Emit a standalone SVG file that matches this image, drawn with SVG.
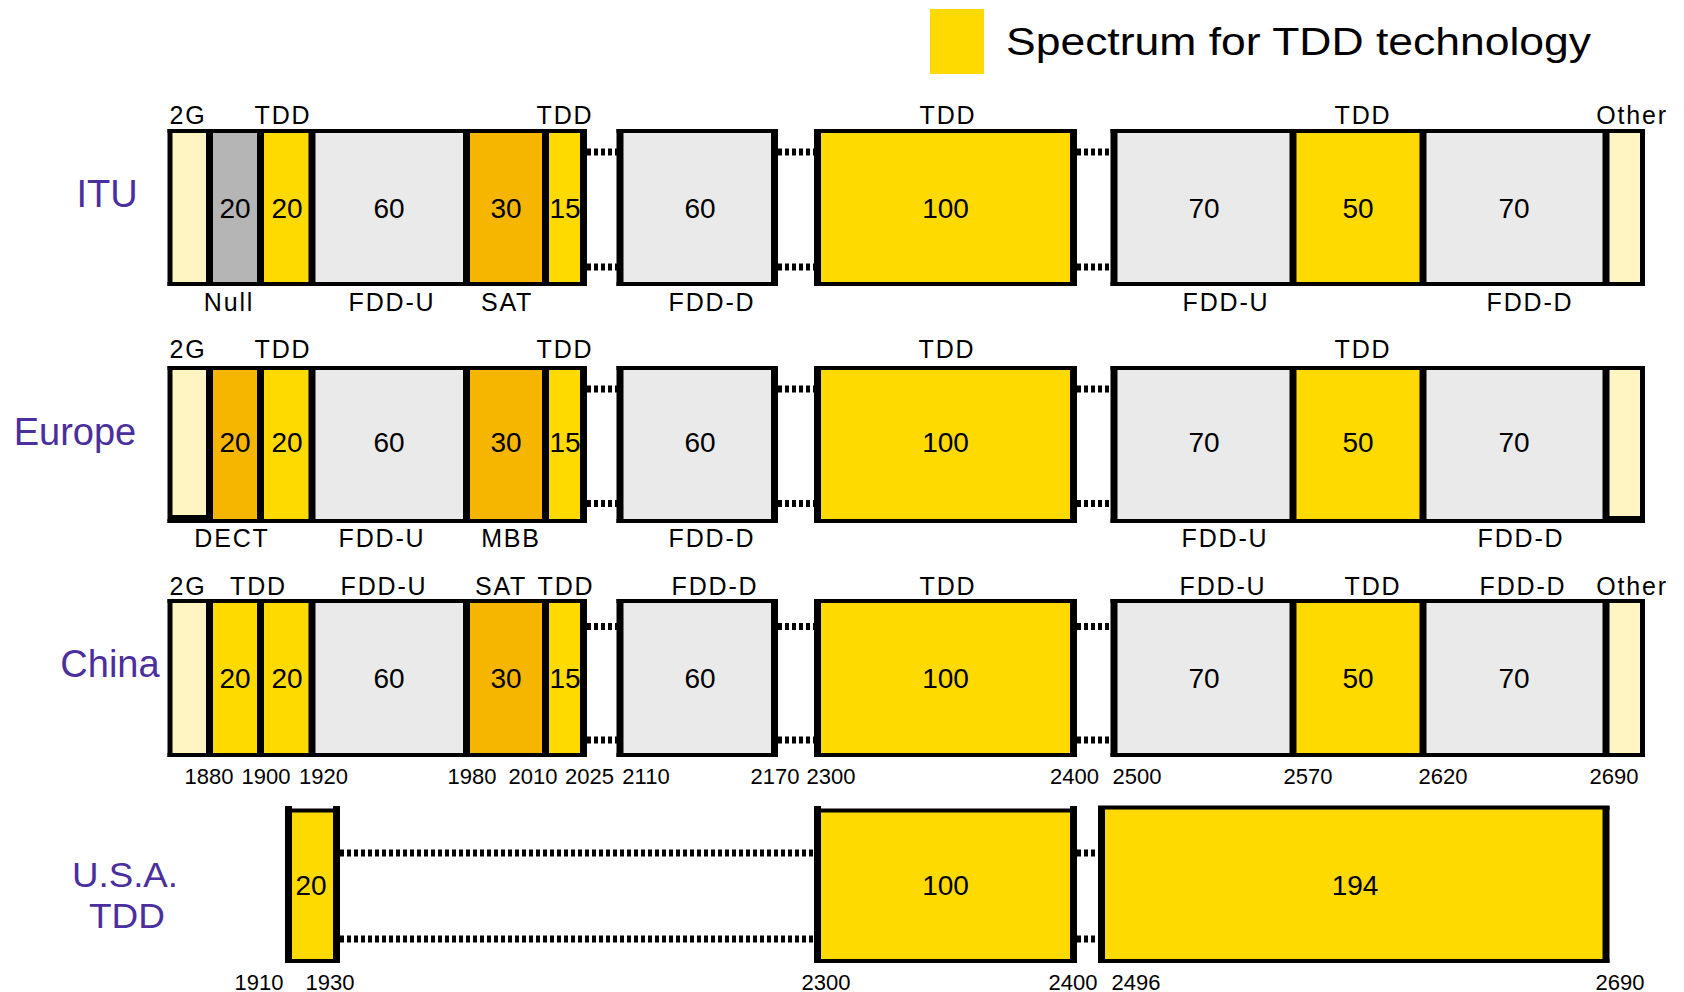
<svg xmlns="http://www.w3.org/2000/svg" width="1684" height="992" viewBox="0 0 1684 992">
<style>
.cr{fill:#FFF5C3}.gr{fill:#B5B5B5}.ye{fill:#FFDA00}.lg{fill:#EAEAEA}.or{fill:#F6B600}
.h{stroke:#000;stroke-width:4;fill:none}
.v{stroke:#000;stroke-width:7;fill:none}
.vt{stroke:#000;stroke-width:5;fill:none}
.dot{stroke:#000;stroke-width:7;stroke-dasharray:4 3;fill:none}
.lab{font-family:"Liberation Sans",Arial,sans-serif;font-size:25px;letter-spacing:1.8px;fill:#000;text-anchor:middle}
.num{font-family:"Liberation Sans",Arial,sans-serif;font-size:28px;fill:#000;text-anchor:middle}
.frq{font-family:"Liberation Sans",Arial,sans-serif;font-size:22px;fill:#000;text-anchor:middle}
.row{font-family:"Liberation Sans",Arial,sans-serif;font-size:38px;fill:#4B2F9E;text-anchor:middle}
.rowu{font-family:"Liberation Sans",Arial,sans-serif;font-size:35px;fill:#4B2F9E;text-anchor:middle}
</style>
<rect width="1684" height="992" fill="#fff"/>

<!-- legend -->
<g id="legend">
<rect x="930" y="9" width="54" height="65" class="ye"/>
<text x="1006" y="55" font-family="Liberation Sans, Arial, sans-serif" font-size="39" textLength="585" lengthAdjust="spacingAndGlyphs" fill="#000">Spectrum for TDD technology</text>
</g>

<!-- row labels -->
<g id="row-labels">
<text class="row" x="107" y="207">ITU</text>
<text class="row" x="75" y="445">Europe</text>
<text class="row" x="110" y="677">China</text>
<text class="rowu" x="125" y="887" textLength="106" lengthAdjust="spacingAndGlyphs">U.S.A.</text>
<text class="rowu" x="127" y="928" textLength="76" lengthAdjust="spacingAndGlyphs">TDD</text>
</g>

<!-- connectors -->
<g id="connectors">
<path class="dot" d="M587 152H617M778 152H814M1077 152H1110M587 267H617M778 267H814M1077 267H1110"/>
<path class="dot" d="M587 389H617M778 389H814M1077 389H1110M587 503.5H617M778 503.5H814M1077 503.5H1110"/>
<path class="dot" d="M587 626.5H617M778 626.5H814M1077 626.5H1110M587 740H617M778 740H814M1077 740H1110"/>
<path class="dot" d="M340 853H814M1077 853H1098M340 939H814M1077 939H1098"/>
</g>

<!-- ITU row -->
<g id="itu">
<g id="itu-block1">
<rect class="cr" x="170" y="131" width="39.5" height="153"/>
<rect class="gr" x="209.5" y="131" width="51" height="153"/>
<rect class="ye" x="260.5" y="131" width="51.5" height="153"/>
<rect class="lg" x="312" y="131" width="154.5" height="153"/>
<rect class="or" x="466.5" y="131" width="79" height="153"/>
<rect class="ye" x="545.5" y="131" width="38" height="153"/>
<path class="h" d="M167.5 131H587M167.5 284H587"/>
<path class="vt" d="M170 129V286"/>
<path class="v" d="M209.5 129V286M260.5 129V286M312 129V286M466.5 129V286M545.5 129V286M583.5 129V286"/>
</g>
<g id="itu-block2">
<rect class="lg" x="620" y="131" width="154.5" height="153"/>
<path class="h" d="M616.5 131H778M616.5 284H778"/>
<path class="v" d="M620 129V286M774.5 129V286"/>
</g>
<g id="itu-block3">
<rect class="ye" x="817.5" y="131" width="256" height="153"/>
<path class="h" d="M814 131H1077M814 284H1077"/>
<path class="v" d="M817.5 129V286M1073.5 129V286"/>
</g>
<g id="itu-block4">
<rect class="lg" x="1114" y="131" width="179" height="153"/>
<rect class="ye" x="1293" y="131" width="130" height="153"/>
<rect class="lg" x="1423" y="131" width="183" height="153"/>
<rect class="cr" x="1606" y="131" width="36.5" height="153"/>
<path class="h" d="M1110.5 131H1645M1110.5 284H1645"/>
<path class="v" d="M1114 129V286M1293 129V286M1423 129V286M1606 129V286"/>
<path class="vt" d="M1642.5 129V286"/>
</g>
<g id="itu-labels">
<text class="lab" x="188" y="124">2G</text>
<text class="lab" x="283" y="124">TDD</text>
<text class="lab" x="565" y="124">TDD</text>
<text class="lab" x="948" y="124">TDD</text>
<text class="lab" x="1363" y="124">TDD</text>
<text class="lab" x="1632" y="124">Other</text>
<text class="lab" x="229" y="311">Null</text>
<text class="lab" x="392" y="311">FDD-U</text>
<text class="lab" x="507" y="311">SAT</text>
<text class="lab" x="712" y="311">FDD-D</text>
<text class="lab" x="1226" y="311">FDD-U</text>
<text class="lab" x="1530" y="311">FDD-D</text>
<text class="num" x="235" y="218">20</text>
<text class="num" x="287" y="218">20</text>
<text class="num" x="389" y="218">60</text>
<text class="num" x="506" y="218">30</text>
<text class="num" x="565" y="218">15</text>
<text class="num" x="700" y="218">60</text>
<text class="num" x="945.5" y="218">100</text>
<text class="num" x="1204" y="218">70</text>
<text class="num" x="1358" y="218">50</text>
<text class="num" x="1514" y="218">70</text>
</g>
</g>

<!-- Europe row -->
<g id="europe">
<g id="europe-block1">
<rect class="cr" x="170" y="368" width="39.5" height="153"/>
<rect class="or" x="209.5" y="368" width="51" height="153"/>
<rect class="ye" x="260.5" y="368" width="51.5" height="153"/>
<rect class="lg" x="312" y="368" width="154.5" height="153"/>
<rect class="or" x="466.5" y="368" width="79" height="153"/>
<rect class="ye" x="545.5" y="368" width="38" height="153"/>
<rect x="170" y="515" width="40" height="6" fill="#000"/>
<path class="h" d="M167.5 368H587M167.5 521H587"/>
<path class="vt" d="M170 366V523"/>
<path class="v" d="M209.5 366V523M260.5 366V523M312 366V523M466.5 366V523M545.5 366V523M583.5 366V523"/>
</g>
<g id="europe-block2">
<rect class="lg" x="620" y="368" width="154.5" height="153"/>
<path class="h" d="M616.5 368H778M616.5 521H778"/>
<path class="v" d="M620 366V523M774.5 366V523"/>
</g>
<g id="europe-block3">
<rect class="ye" x="817.5" y="368" width="256" height="153"/>
<path class="h" d="M814 368H1077M814 521H1077"/>
<path class="v" d="M817.5 366V523M1073.5 366V523"/>
</g>
<g id="europe-block4">
<rect class="lg" x="1114" y="368" width="179" height="153"/>
<rect class="ye" x="1293" y="368" width="130" height="153"/>
<rect class="lg" x="1423" y="368" width="183" height="153"/>
<rect class="cr" x="1606" y="368" width="36.5" height="153"/>
<rect x="1606" y="516" width="38" height="6" fill="#000"/>
<path class="h" d="M1110.5 368H1645M1110.5 521H1645"/>
<path class="v" d="M1114 366V523M1293 366V523M1423 366V523M1606 366V523"/>
<path class="vt" d="M1642.5 366V523"/>
</g>
<g id="europe-labels">
<text class="lab" x="188" y="358">2G</text>
<text class="lab" x="283" y="358">TDD</text>
<text class="lab" x="565" y="358">TDD</text>
<text class="lab" x="947" y="358">TDD</text>
<text class="lab" x="1363" y="358">TDD</text>
<text class="lab" x="232" y="547">DECT</text>
<text class="lab" x="382" y="547">FDD-U</text>
<text class="lab" x="511" y="547">MBB</text>
<text class="lab" x="712" y="547">FDD-D</text>
<text class="lab" x="1225" y="547">FDD-U</text>
<text class="lab" x="1521" y="547">FDD-D</text>
<text class="num" x="235" y="452">20</text>
<text class="num" x="287" y="452">20</text>
<text class="num" x="389" y="452">60</text>
<text class="num" x="506" y="452">30</text>
<text class="num" x="565" y="452">15</text>
<text class="num" x="700" y="452">60</text>
<text class="num" x="945.5" y="452">100</text>
<text class="num" x="1204" y="452">70</text>
<text class="num" x="1358" y="452">50</text>
<text class="num" x="1514" y="452">70</text>
</g>
</g>

<!-- China row -->
<g id="china">
<g id="china-block1">
<rect class="cr" x="170" y="601" width="39.5" height="154"/>
<rect class="ye" x="209.5" y="601" width="51" height="154"/>
<rect class="ye" x="260.5" y="601" width="51.5" height="154"/>
<rect class="lg" x="312" y="601" width="154.5" height="154"/>
<rect class="or" x="466.5" y="601" width="79" height="154"/>
<rect class="ye" x="545.5" y="601" width="38" height="154"/>
<path class="h" d="M167.5 601H587M167.5 755H587"/>
<path class="vt" d="M170 599V757"/>
<path class="v" d="M209.5 599V757M260.5 599V757M312 599V757M466.5 599V757M545.5 599V757M583.5 599V757"/>
</g>
<g id="china-block2">
<rect class="lg" x="620" y="601" width="154.5" height="154"/>
<path class="h" d="M616.5 601H778M616.5 755H778"/>
<path class="v" d="M620 599V757M774.5 599V757"/>
</g>
<g id="china-block3">
<rect class="ye" x="817.5" y="601" width="256" height="154"/>
<path class="h" d="M814 601H1077M814 755H1077"/>
<path class="v" d="M817.5 599V757M1073.5 599V757"/>
</g>
<g id="china-block4">
<rect class="lg" x="1114" y="601" width="179" height="154"/>
<rect class="ye" x="1293" y="601" width="130" height="154"/>
<rect class="lg" x="1423" y="601" width="183" height="154"/>
<rect class="cr" x="1606" y="601" width="36.5" height="154"/>
<path class="h" d="M1110.5 601H1645M1110.5 755H1645"/>
<path class="v" d="M1114 599V757M1293 599V757M1423 599V757M1606 599V757"/>
<path class="vt" d="M1642.5 599V757"/>
</g>
<g id="china-labels">
<text class="lab" x="188" y="595">2G</text>
<text class="lab" x="258.5" y="595">TDD</text>
<text class="lab" x="384" y="595">FDD-U</text>
<text class="lab" x="501" y="595">SAT</text>
<text class="lab" x="566" y="595">TDD</text>
<text class="lab" x="715" y="595">FDD-D</text>
<text class="lab" x="948" y="595">TDD</text>
<text class="lab" x="1223" y="595">FDD-U</text>
<text class="lab" x="1373" y="595">TDD</text>
<text class="lab" x="1523" y="595">FDD-D</text>
<text class="lab" x="1632" y="595">Other</text>
<text class="num" x="235" y="688">20</text>
<text class="num" x="287" y="688">20</text>
<text class="num" x="389" y="688">60</text>
<text class="num" x="506" y="688">30</text>
<text class="num" x="565" y="688">15</text>
<text class="num" x="700" y="688">60</text>
<text class="num" x="945.5" y="688">100</text>
<text class="num" x="1204" y="688">70</text>
<text class="num" x="1358" y="688">50</text>
<text class="num" x="1514" y="688">70</text>
<text class="frq" x="209" y="784">1880</text>
<text class="frq" x="266" y="784">1900</text>
<text class="frq" x="323.5" y="784">1920</text>
<text class="frq" x="472" y="784">1980</text>
<text class="frq" x="533" y="784">2010</text>
<text class="frq" x="589.5" y="784">2025</text>
<text class="frq" x="646" y="784">2110</text>
<text class="frq" x="775" y="784">2170</text>
<text class="frq" x="831" y="784">2300</text>
<text class="frq" x="1074.5" y="784">2400</text>
<text class="frq" x="1137" y="784">2500</text>
<text class="frq" x="1308" y="784">2570</text>
<text class="frq" x="1443" y="784">2620</text>
<text class="frq" x="1614" y="784">2690</text>
</g>
</g>

<!-- USA row -->
<g id="usa">
<g id="usa-block1">
<rect class="ye" x="288.5" y="810.5" width="48" height="151"/>
<path class="h" d="M285 810.5H340M285 961H340"/>
<path class="v" d="M288.5 806V963M336.5 806V963"/>
</g>
<g id="usa-block2">
<rect class="ye" x="817.5" y="810.5" width="256" height="151"/>
<path class="h" d="M814 810.5H1077M814 961H1077"/>
<path class="v" d="M817.5 806V963M1073.5 806V963"/>
</g>
<g id="usa-block3">
<rect class="ye" x="1101.5" y="807.5" width="504.5" height="154"/>
<path class="h" d="M1098 807.5H1609.5M1098 961H1609.5"/>
<path class="v" d="M1101.5 806V963M1606 806V963"/>
</g>
<g id="usa-labels">
<text class="num" x="311" y="895">20</text>
<text class="num" x="945.5" y="895">100</text>
<text class="num" x="1355" y="895">194</text>
<text class="frq" x="259" y="990">1910</text>
<text class="frq" x="330" y="990">1930</text>
<text class="frq" x="826" y="990">2300</text>
<text class="frq" x="1073" y="990">2400</text>
<text class="frq" x="1136" y="990">2496</text>
<text class="frq" x="1620" y="990">2690</text>
</g>
</g>
</svg>
